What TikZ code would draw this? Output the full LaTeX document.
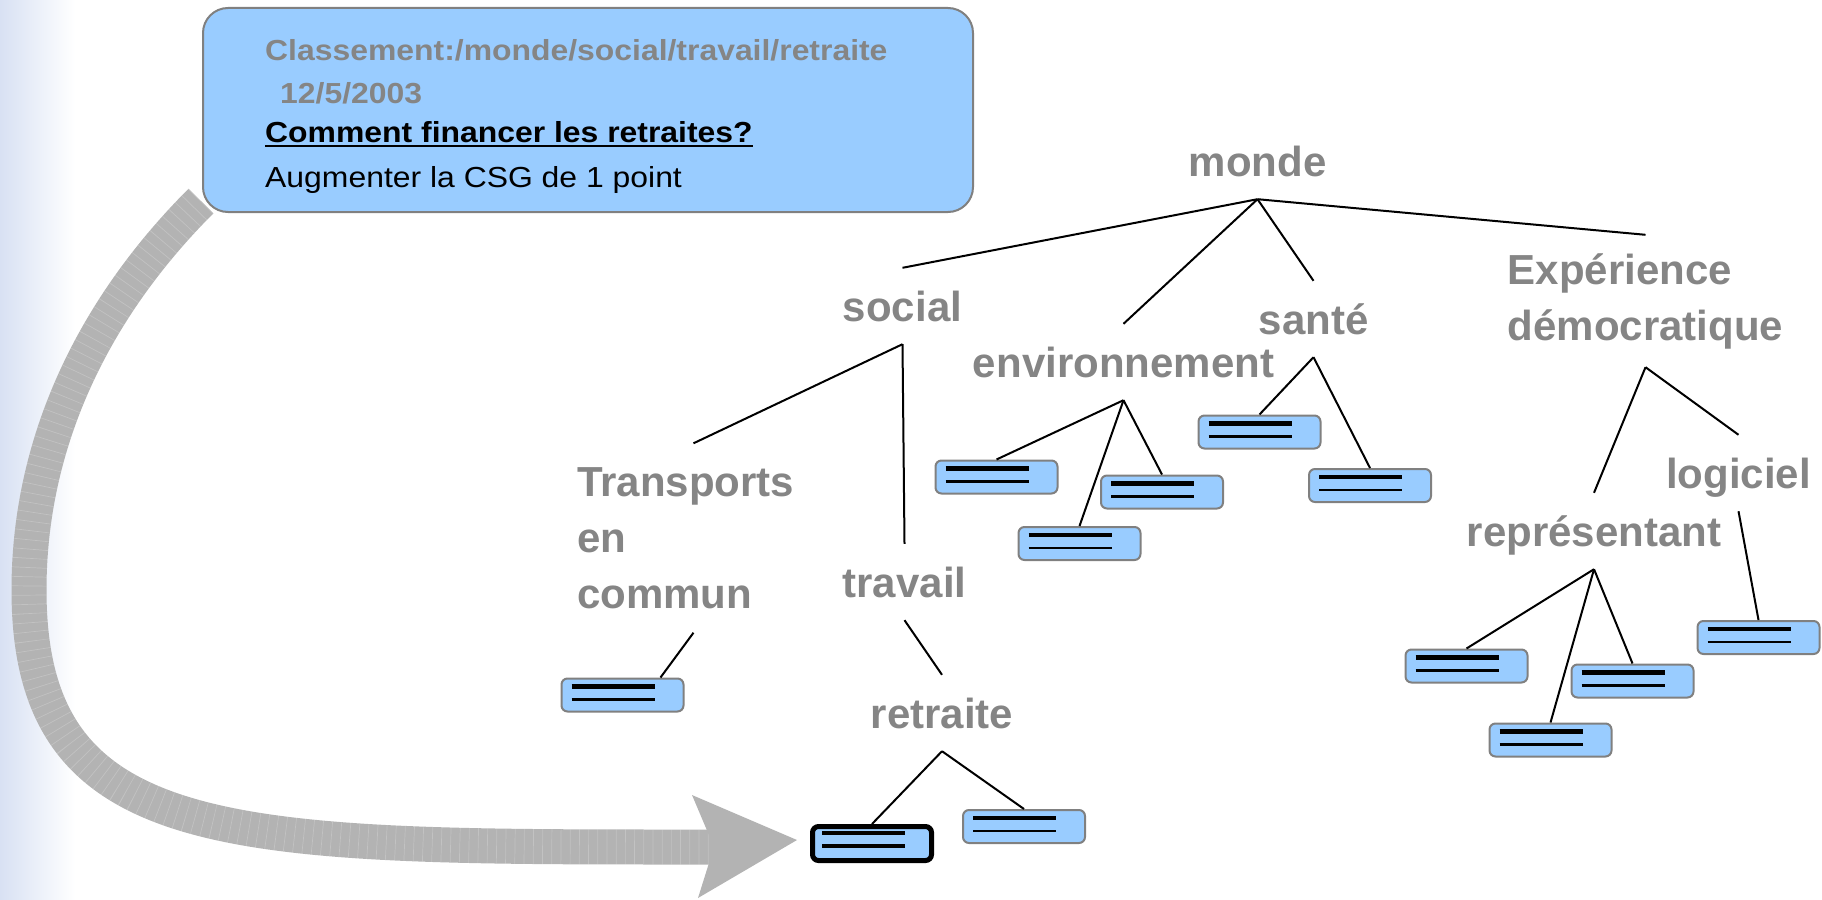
\documentclass[tikz,border=0pt]{standalone}
\usepackage{fontspec}
\setmainfont{Liberation Sans}
\newfontfamily\cardfont[FakeStretch=1.1]{Liberation Sans}
\usepackage{xcolor}

\definecolor{leafblue}{HTML}{99CCFF}
\definecolor{rimgray}{HTML}{808080}
\definecolor{labelgray}{HTML}{858585}
\definecolor{bandgray}{HTML}{B3B3B3}
\definecolor{stripblue}{HTML}{D8E1F3}

\newcommand{\topicfont}{\fontsize{42}{56}\selectfont\bfseries}
\newcommand{\cardtext}{\cardfont\fontsize{29}{34}\selectfont}
\newcommand{\leafrules}[4]{%
	\draw[black,line width=4.5pt] ([xshift=#1pt,yshift=-#2pt]path picture bounding box.north west) -- ++(83,0);
	\draw[black,line width=#4pt] ([xshift=#1pt,yshift=-#3pt]path picture bounding box.north west) -- ++(83,0);}

\tikzset{
	topic/.style={font=\topicfont, text=labelgray, inner sep=0pt},
	word/.style={topic, text height=30pt, text depth=0pt, minimum height=76pt},
	leaf/.style={draw=rimgray, fill=leafblue, line width=2pt, rounded corners=6pt,
		minimum width=122pt, minimum height=33pt, inner sep=0pt,
		path picture={\leafrules{10}{8}{21}{2.5}}},
	pick/.style={draw=black, fill=leafblue, line width=5pt, rounded corners=6pt,
		minimum width=119pt, minimum height=34pt, inner sep=0pt,
		path picture={\leafrules{9.5}{6.5}{19.5}{4.5}}},
	band/.style={bandgray, line width=35pt,
		postaction={draw=white, opacity=0.2, dash pattern=on 0.7pt off 8.5pt}},
	cardline/.style={anchor=base west, inner sep=0pt}
}

\begin{document}
\begin{tikzpicture}[x=1pt,y=-1pt]
	\useasboundingbox (0,0) rectangle (1822,899);
	\shade[left color=stripblue, right color=white] (0,0) rectangle (75,899);

	\coordinate (arc-start) at (201,201);
	\coordinate (arc-bend) at (29,590);
	\coordinate (tip) at (797,840);
	\coordinate (notch) at (714,847);
	\coordinate (barb-up) at (692,795);
	\coordinate (barb-down) at (698,898);
	\draw[band] (arc-start) to[out=225, in=90, out distance=150pt, in distance=150pt] (arc-bend)
		to[out=270, in=180, out distance=260pt, in distance=480pt] (notch);
	\fill[bandgray] (barb-up) -- (tip) -- (barb-down) -- (notch) -- cycle;

	\node[draw=rimgray, fill=leafblue, line width=2pt, rounded corners=25pt,
		minimum width=770pt, minimum height=204pt, inner sep=0pt] (card) at (588,110) {};
	\node[cardline, font=\cardtext\bfseries, text=labelgray] (cls) at (265,60) {Classement:/monde/social/travail/retraite};
	\node[cardline, font=\cardtext\bfseries, text=labelgray] (stamp) at (280,103) {12/5/2003};
	\node[cardline, font=\cardtext\bfseries] (quest) at (265,142) {Comment financer les retraites?};
	\node[cardline, font=\cardtext] (answ) at (265,187) {Augmenter la CSG de 1 point};
	\draw[line width=2pt] ([yshift=-4pt]quest.base west) -- ([yshift=-4pt]quest.base east);

	\node[word] (monde) at (1257.5,161) {monde};
	\node[word] (social) at (902.5,306) {social};
	\node[word] (env) at (1123.5,362) {environnement};
	\node[word] (sante) at (1313.5,319) {santé};
	\node[topic, align=left, minimum height=132pt] (exper) at (1645.5,301) {Expérience\\démocratique};
	\node[topic, align=left, text width=233pt, minimum height=189pt] (transp) at (693.5,538) {Transports\\en\\commun};
	\node[word] (travail) at (904.5,582) {travail};
	\node[word] (retraite) at (942,713) {retraite};
	\node[word] (repr) at (1594,531) {représentant};
	\node[word] (logic) at (1738.5,473) {logiciel};

	\node[leaf] (t1) at (622.5,695) {};
	\node[pick] (r1) at (872,843.5) {};
	\node[leaf] (r2) at (1024,826.5) {};
	\node[leaf] (e1) at (996.5,477) {};
	\node[leaf] (e2) at (1079.5,543.5) {};
	\node[leaf] (e3) at (1162,492) {};
	\node[leaf] (s1) at (1259.5,432) {};
	\node[leaf] (s2) at (1370,485.5) {};
	\node[leaf] (p1) at (1466.5,666) {};
	\node[leaf] (p2) at (1550.5,740) {};
	\node[leaf] (p3) at (1632.5,681) {};
	\node[leaf] (l1) at (1758.5,637.5) {};

	\begin{scope}[line width=2pt]
		\draw (monde.south) -- (social.north);
		\draw (monde.south) -- (env.north);
		\draw (monde.south) -- (sante.north);
		\draw (monde.south) -- (exper.north);
		\draw (social.south) -- (transp.north);
		\draw (social.south) -- (travail.north);
		\draw (transp.south) -- ([xshift=38pt]t1.north);
		\draw (travail.south) -- (retraite.north);
		\draw (retraite.south) -- (r1.north);
		\draw (retraite.south) -- (r2.north);
		\draw (env.south) -- (e1.north);
		\draw (env.south) -- (e2.north);
		\draw (env.south) -- (e3.north);
		\draw (sante.south) -- (s1.north);
		\draw (sante.south) -- (s2.north);
		\draw (exper.south) -- (repr.north);
		\draw (exper.south) -- (logic.north);
		\draw (repr.south) -- (p1.north);
		\draw (repr.south) -- (p2.north);
		\draw (repr.south) -- (p3.north);
		\draw (logic.south) -- (l1.north);
	\end{scope}
\end{tikzpicture}
\end{document}
